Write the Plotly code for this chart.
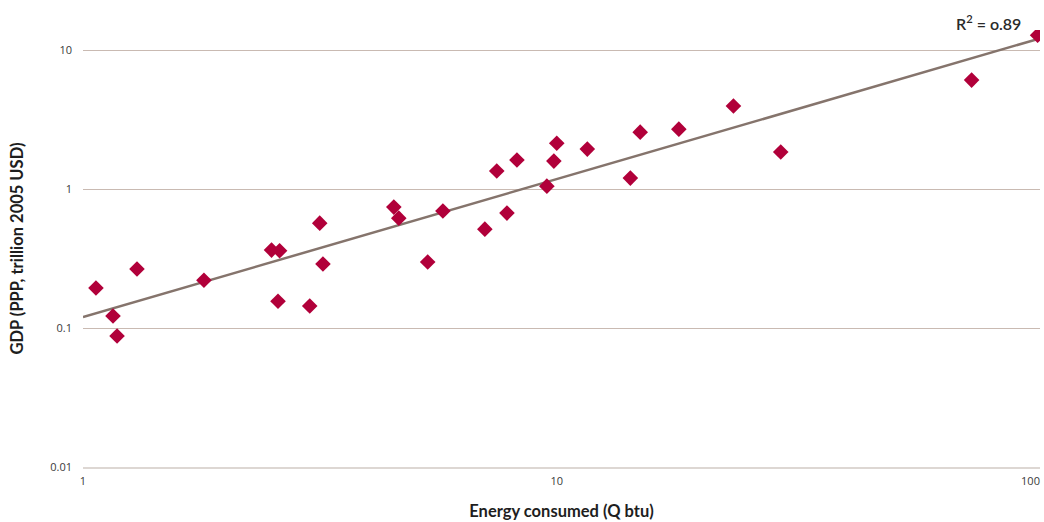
import numpy as np
import plotly.graph_objects as go

# Energy consumption (quadrillion btu) and GDP (PPP, trillion 2005 USD) by country
energy_qbtu = [1.065, 1.157, 1.18, 1.30, 1.80, 2.50, 2.60, 2.58, 3.01, 3.16,
               3.21, 4.53, 4.64, 5.34, 5.75, 7.05, 7.47, 7.85, 8.24, 9.53,
               9.86, 10.0, 11.6, 14.3, 15.0, 18.1, 23.6, 29.7, 75.1, 103.5]
gdp_trillion = [0.194, 0.122, 0.0876, 0.266, 0.221, 0.364, 0.36, 0.156, 0.144, 0.569,
                0.289, 0.742, 0.618, 0.299, 0.695, 0.515, 1.35, 0.672, 1.62, 1.05,
                1.59, 2.14, 1.94, 1.20, 2.57, 2.70, 3.96, 1.85, 6.09, 12.8]

x_ticks = [1, 10, 100]
x_tick_labels = ["1", "10", "100"]
y_ticks = [0.01, 0.1, 1, 10]
y_tick_labels = ["0.01", "0.1", "1", "10"]
r_squared_label = "0.89"

# Power-law trend fitted in log-log space
lx = np.log10(energy_qbtu)
ly = np.log10(gdp_trillion)
slope, intercept = np.polyfit(lx, ly, 1)
x_line = np.array([1.0, 10 ** 2.02])
y_line = 10 ** (intercept + slope * np.log10(x_line))

fig = go.Figure()
fig.add_trace(go.Scatter(
    x=x_line, y=y_line, mode="lines",
    line=dict(color="#85746c", width=2.5),
    hoverinfo="skip", showlegend=False,
))
fig.add_trace(go.Scatter(
    x=energy_qbtu, y=gdp_trillion, mode="markers",
    marker=dict(symbol="diamond", size=12, color="#b1003a"),
    showlegend=False,
))

fig.add_annotation(
    x=1, xref="paper", xanchor="right", xshift=-17,
    y=1.145, yref="y", yanchor="middle", yshift=8,
    text="R<sup>2</sup> = " + r_squared_label.replace("0.", "o."),
    showarrow=False,
    font=dict(family="Lato, sans-serif", size=16, color="#2a2a2a", weight=600),
)

title_font = dict(family="Lato, sans-serif", size=16.5, color="#1e1e1e", weight="bold")

fig.update_layout(
    width=1044, height=522,
    margin=dict(l=83, r=4, t=30, b=55),
    paper_bgcolor="white", plot_bgcolor="white",
    font=dict(family="Open Sans, sans-serif", size=11, color="#3a3a3a"),
    xaxis=dict(
        type="log", range=[0, 2.02],
        tickvals=x_ticks, ticktext=x_tick_labels,
        showgrid=False, zeroline=False,
        showline=True, linecolor="#ddd7d3", linewidth=2,
        ticks="", ticklen=0, ticklabelstandoff=3,
        tickfont=dict(size=11, color="#3a3a3a"),
        title=dict(text="Energy consumed (Q btu)", standoff=18, font=title_font),
    ),
    yaxis=dict(
        type="log", range=[-2, 1.145],
        tickvals=y_ticks, ticktext=y_tick_labels,
        showgrid=True, gridcolor="#c9bab2", gridwidth=1,
        zeroline=False, showline=False, ticks="", ticklabelstandoff=10,
        tickfont=dict(size=11, color="#3a3a3a"),
        title=dict(text="GDP (PPP, trillion 2005 USD)", standoff=22, font=title_font),
    ),
)

fig.write_html("out.html")
